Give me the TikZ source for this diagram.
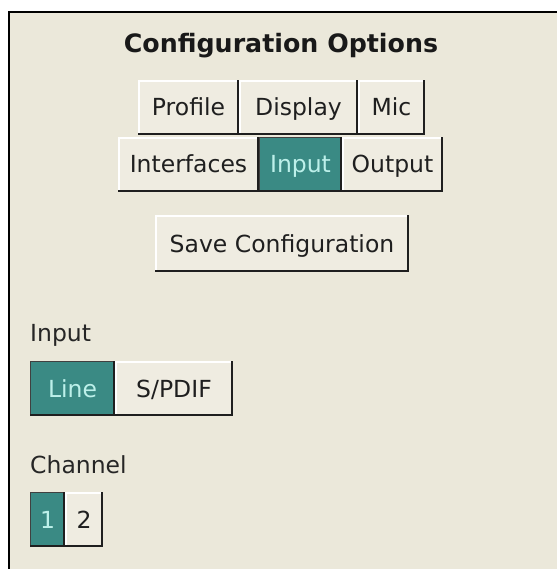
\documentclass[tikz,border=0pt]{standalone}
\usepackage{fontspec}
\setmainfont{DejaVu Sans}
\begin{document}
\begin{tikzpicture}[x=1pt,y=-1pt,
  panelbg/.style={fill=bgcol},
  btnbase/.style={inner sep=0pt, minimum height=55pt, text height=17pt, text depth=0pt,
    font=\fontsize{23.5}{28}\selectfont},
  btn/.style={btnbase, fill=facecol, text=black!88,
    path picture={
      \draw[white, line width=1.6pt] ([xshift=.8pt]path picture bounding box.south west) |- ([yshift=-.8pt]path picture bounding box.north east);
      \draw[black!88, line width=2.2pt] ([yshift=1.1pt]path picture bounding box.south west) -| ([xshift=-1.1pt]path picture bounding box.north east);
    }},
  selbtn/.style={btnbase, fill=tealcol, text=tealtext,
    path picture={
      \draw[black!75, line width=1.2pt] ([xshift=.6pt]path picture bounding box.south west) |- ([yshift=-.6pt]path picture bounding box.north east);
      \draw[black!88, line width=2.2pt] ([yshift=1.1pt]path picture bounding box.south west) -| ([xshift=-1.1pt]path picture bounding box.north east);
    }},
  lbl/.style={inner sep=0pt, anchor=base west, text=black!85, font=\fontsize{23.5}{28}\selectfont},
  ttl/.style={inner sep=0pt, anchor=base, text=black!90, font=\fontsize{25.3}{30}\selectfont\bfseries}
]
\definecolor{bgcol}{HTML}{EBE8DA}
\definecolor{facecol}{HTML}{EFECE1}
\definecolor{tealcol}{HTML}{3A8A84}
\definecolor{tealtext}{HTML}{BDF0EA}
\useasboundingbox (0,0) rectangle (557,569);
\fill[white] (0,0) rectangle (557,569);
\fill[panelbg] (8,11) rectangle (557,569);
\draw[black, line width=2.4pt] (9.2,569) -- (9.2,12.2) -- (557,12.2);

\node[ttl] (title) at (281,53) {Configuration Options};

\node[btn, minimum width=101pt] (profile) at (188.5,107.5) {Profile};
\node[btn, minimum width=119pt] (display) at (298.5,107.5) {Display};
\node[btn, minimum width=67pt] (mic) at (391.5,107.5) {Mic};

\node[btn, minimum width=141pt] (interfaces) at (188.5,164.5) {Interfaces};
\node[selbtn, minimum width=83pt] (input) at (300.5,164.5) {Input};
\node[btn, minimum width=101pt] (output) at (392.5,164.5) {Output};

\node[btn, minimum width=254pt, minimum height=57pt] (save) at (282,243.5) {Save Configuration};

\node[lbl] (inputlbl) at (30,341) {Input};
\node[selbtn, minimum width=85pt] (line) at (72.5,388.5) {Line};
\node[btn, minimum width=118pt] (spdif) at (174,388.5) {S/PDIF};

\node[lbl] (channellbl) at (30,473) {Channel};
\node[selbtn, minimum width=35pt] (ch1) at (47.5,519.5) {1};
\node[btn, minimum width=38pt] (ch2) at (84,519.5) {2};
\end{tikzpicture}
\end{document}
